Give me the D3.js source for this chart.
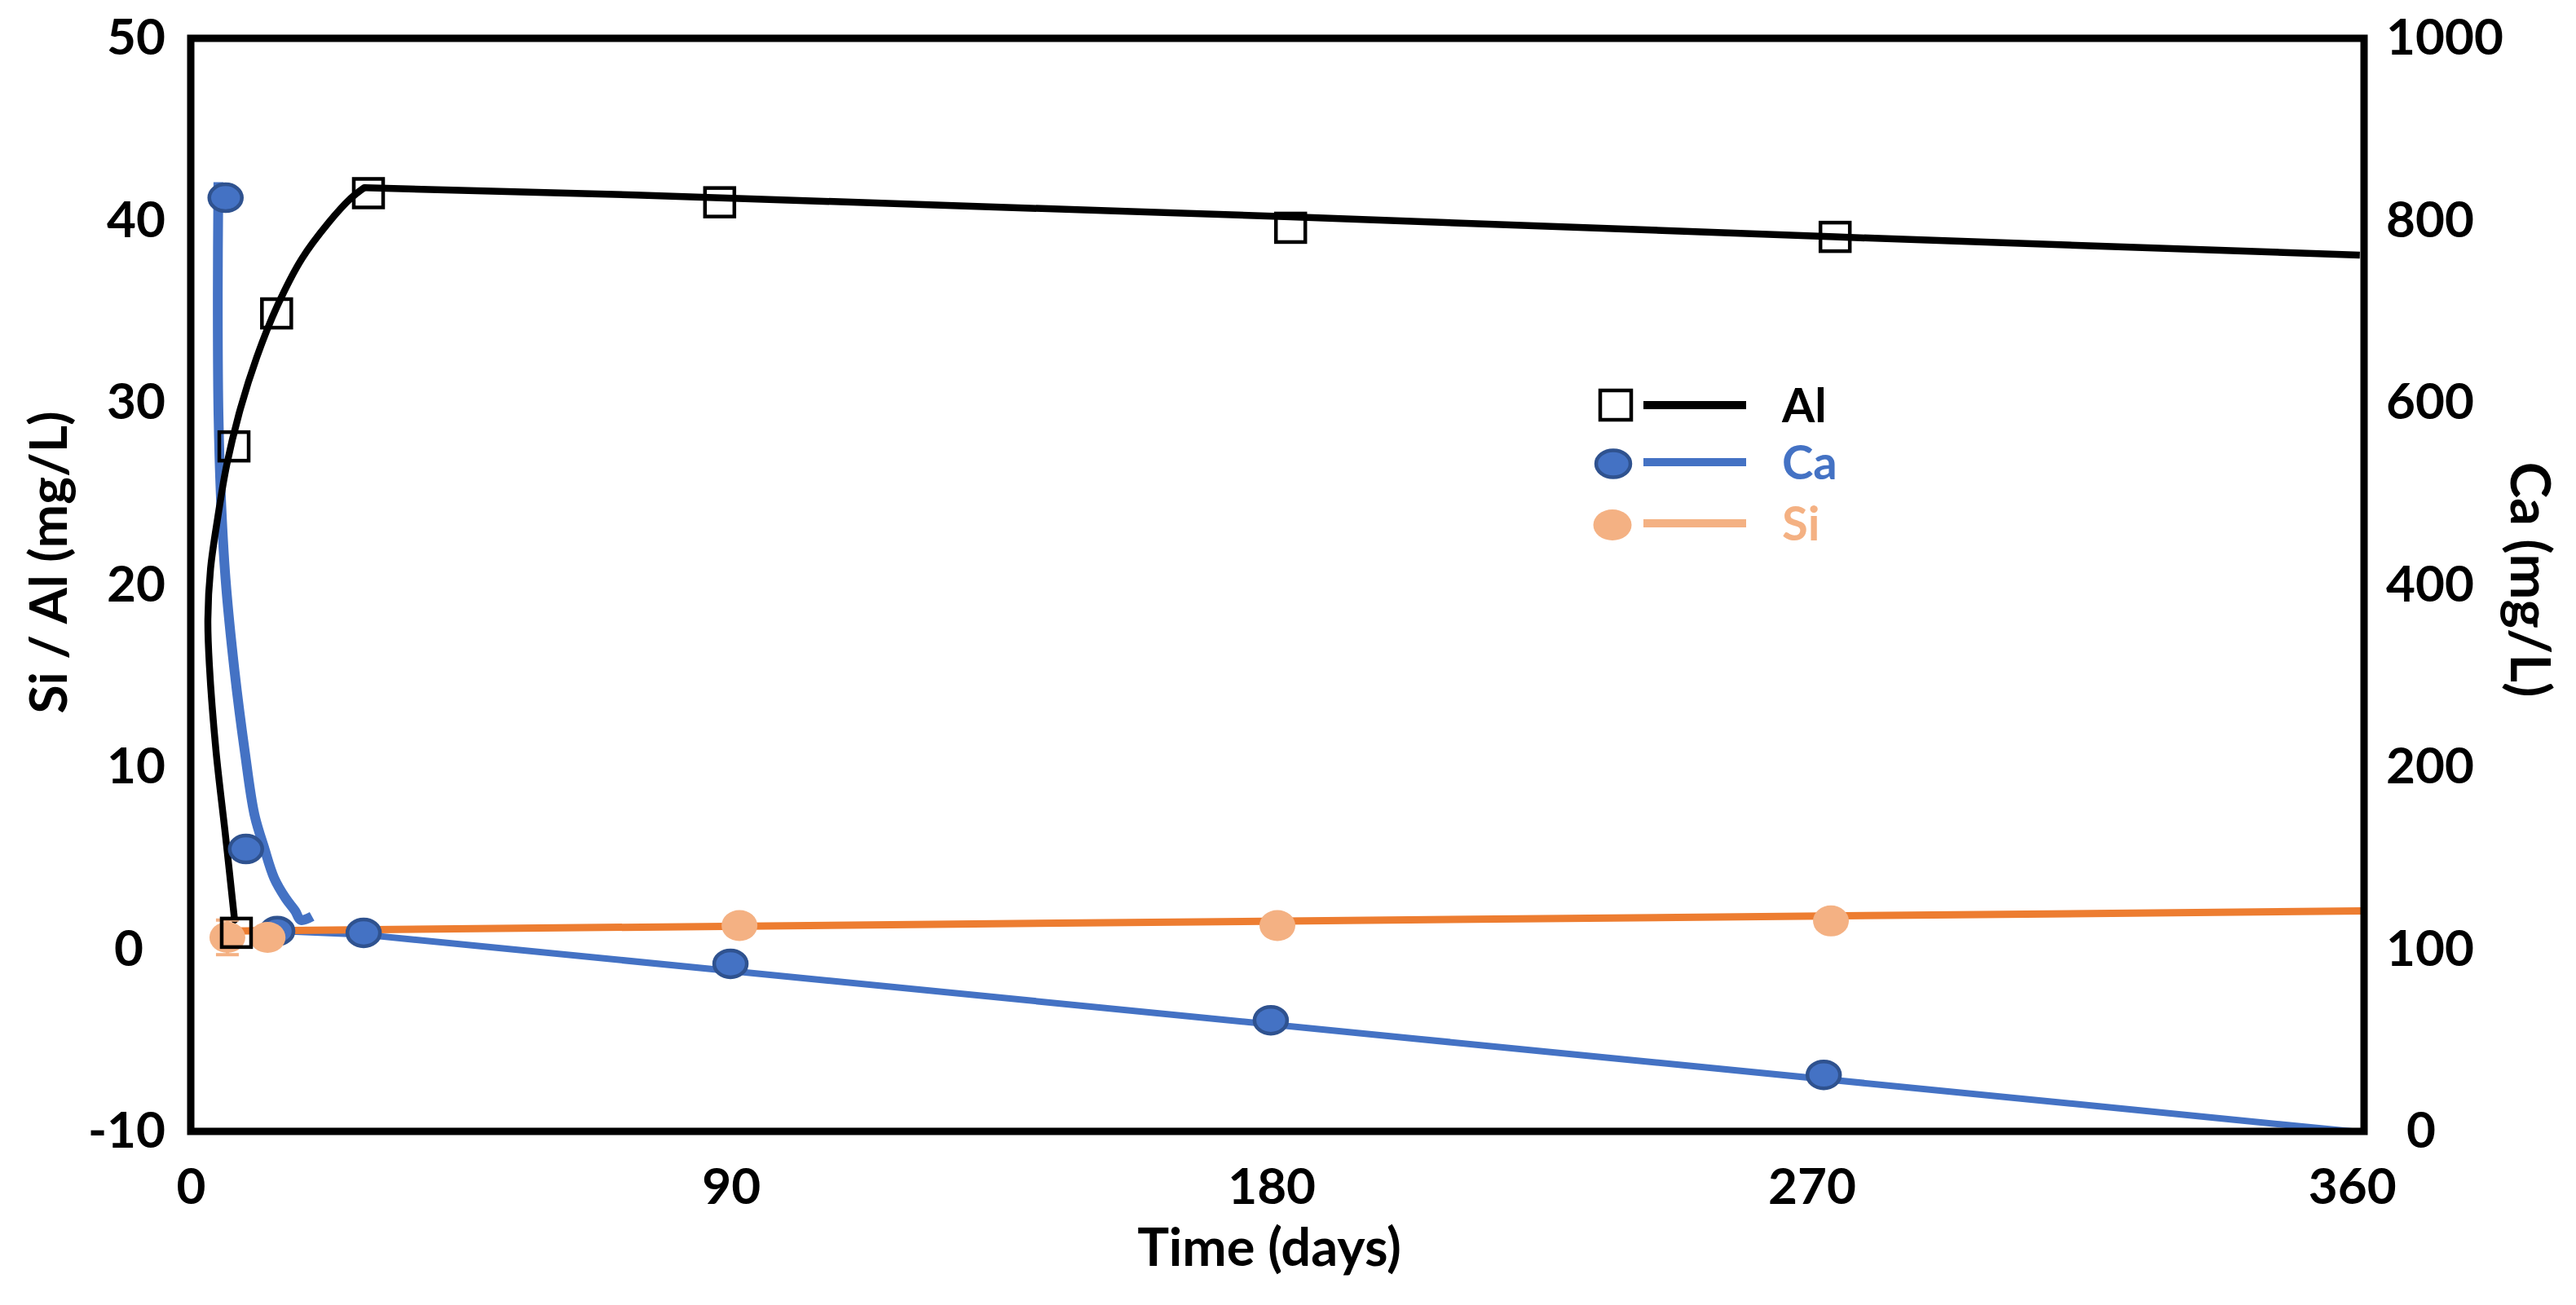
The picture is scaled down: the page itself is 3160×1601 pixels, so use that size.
<!DOCTYPE html>
<html>
<head>
<meta charset="utf-8">
<script src="https://cdn.jsdelivr.net/npm/d3@7/dist/d3.min.js"></script>
<style>
  html, body { margin: 0; padding: 0; background: #ffffff; }
  svg { display: block; }
  text { font-family: Lato, "Open Sans", sans-serif; font-weight: 700; }
</style>
</head>
<body>
<svg id="chart" width="3160" height="1601"></svg>
<script>
// ---------------- data ----------------
const xTicks = [0, 90, 180, 270, 360];
const leftTicks = [-10, 0, 10, 20, 30, 40, 50];
const rightTicks = [0, 100, 200, 400, 600, 800, 1000];

// Al (mg/L, left axis) markers
const alDays   = [7.6, 7.2, 14.3, 29.6, 88.1, 183.2, 273.9];
const alValues = [0.9, 27.6, 34.9, 41.5, 41.0, 39.6, 39.1];
// Al fitted curve (early rise)
const alCurveDays   = [7.3, 5.8, 4.2, 3.1, 2.85, 3.3, 4.5, 6.0, 8.3, 11.0, 14.4, 18.5, 23.0, 26.6, 28.9];
const alCurveValues = [1.6, 6.2, 10.9, 15.6, 18.1, 20.9, 23.7, 26.6, 29.7, 32.5, 35.3, 37.9, 39.9, 41.2, 41.8];
// Al trend line (after the peak)
const alLineDays   = [28.9, 74.1, 183.2, 273.9, 361.3];
const alLineValues = [41.8, 41.4, 40.2, 39.1, 38.1];

// Ca (mg/L, right axis) markers
const caDays   = [5.8, 9.2, 14.4, 28.8, 89.9, 179.9, 272.0];
const caValues = [825, 155, 110, 109, 92, 61, 31];
// Ca early fitted curve
const caCurveDays   = [4.6, 4.5, 4.6, 5.0, 5.8, 7.3, 9.0, 10.6, 12.2, 13.9, 15.8, 17.4, 18.3, 20.2];
const caCurveValues = [842, 720, 595, 500, 406, 305, 217, 174, 156, 139, 128, 121, 116, 118];
// Ca trend line
const caLineDays   = [15.1, 28.8, 360];
const caLineValues = [110, 108, 0];

// Si (mg/L, left axis) markers
const siDays   = [6.1, 12.8, 91.4, 181.0, 273.2];
const siValues = [0.65, 0.65, 1.3, 1.3, 1.55];
const siErr    = [0.95, 0, 0, 0, 0];
// Si trend line
const siLineDays   = [6.3, 362];
const siLineValues = [1.0, 2.1];

const legendItems = ["Al", "Ca", "Si"];

// ---------------- layout / style ----------------
const plot = { left: 234, right: 2900, top: 47, bottom: 1388 };
const colors = {
  al: "#000000",
  ca: "#4472C4", caStroke: "#2F528F",
  si: "#F4B183", siLine: "#ED7D31"
};

const svg = d3.select("#chart");
svg.append("rect").attr("width", 3160).attr("height", 1601).attr("fill", "#fff");

const x = d3.scaleLinear().domain([0, 362]).range([plot.left, plot.right]);
const yL = d3.scaleLinear().domain([-10, 50]).range([plot.bottom, plot.top]);
// right axis labels sit at the same heights as the left axis ticks
const yR = d3.scaleLinear().domain(rightTicks).range(leftTicks.map(v => yL(v)));

const zip = (a, b) => a.map((v, i) => [v, b[i]]);
const lineL = (curve) => d3.line().x(d => x(d[0])).y(d => yL(d[1])).curve(curve);
const lineR = (curve) => d3.line().x(d => x(d[0])).y(d => yR(d[1])).curve(curve);

// ---------------- lines ----------------
const g = svg.append("g");

g.append("path")
  .attr("d", lineR(d3.curveCatmullRom.alpha(0.5))(zip(caCurveDays, caCurveValues)))
  .attr("fill", "none").attr("stroke", colors.ca).attr("stroke-width", 12);

g.append("path")
  .attr("d", lineR(d3.curveLinear)(zip(caLineDays, caLineValues)))
  .attr("fill", "none").attr("stroke", colors.ca).attr("stroke-width", 8);

g.append("path")
  .attr("d", lineL(d3.curveLinear)(zip(siLineDays, siLineValues)))
  .attr("fill", "none").attr("stroke", colors.siLine).attr("stroke-width", 9);

g.append("path")
  .attr("d", lineL(d3.curveCatmullRom.alpha(0.5))(zip(alCurveDays, alCurveValues)))
  .attr("fill", "none").attr("stroke", colors.al).attr("stroke-width", 8.5)
  .attr("stroke-linecap", "round");

g.append("path")
  .attr("d", lineL(d3.curveLinear)(zip(alLineDays, alLineValues)))
  .attr("fill", "none").attr("stroke", colors.al).attr("stroke-width", 8.5)
  .attr("stroke-linejoin", "round");

// ---------------- markers ----------------
g.selectAll(".ca").data(zip(caDays, caValues)).enter().append("ellipse")
  .attr("cx", d => x(d[0])).attr("cy", d => yR(d[1]))
  .attr("rx", 20).attr("ry", 16.5)
  .attr("fill", colors.ca).attr("stroke", colors.caStroke).attr("stroke-width", 4.5);

// Si error bars
const siErrData = siDays.map((d, i) => ({ d, v: siValues[i], e: siErr[i] })).filter(o => o.e > 0);
siErrData.forEach(o => {
  g.append("line").attr("x1", x(o.d)).attr("x2", x(o.d))
    .attr("y1", yL(o.v - o.e)).attr("y2", yL(o.v + o.e))
    .attr("stroke", colors.si).attr("stroke-width", 4);
  [o.v - o.e, o.v + o.e].forEach(v => {
    g.append("line").attr("x1", x(o.d) - 14).attr("x2", x(o.d) + 14)
      .attr("y1", yL(v)).attr("y2", yL(v))
      .attr("stroke", colors.si).attr("stroke-width", 4);
  });
});

g.selectAll(".si").data(zip(siDays, siValues)).enter().append("ellipse")
  .attr("cx", d => x(d[0])).attr("cy", d => yL(d[1]))
  .attr("rx", 22).attr("ry", 19)
  .attr("fill", colors.si);

g.selectAll(".al").data(zip(alDays, alValues)).enter().append("rect")
  .attr("x", d => x(d[0]) - 18).attr("y", d => yL(d[1]) - 17.5)
  .attr("width", 36).attr("height", 35)
  .attr("fill", "none").attr("stroke", colors.al).attr("stroke-width", 4.5);

// ---------------- frame ----------------
svg.append("rect")
  .attr("x", plot.left).attr("y", plot.top)
  .attr("width", plot.right - plot.left).attr("height", plot.bottom - plot.top)
  .attr("fill", "none").attr("stroke", "#000").attr("stroke-width", 9);

// ---------------- axes ----------------
const tickFont = 62;
const fmt = d => String(d);
const styleTicks = sel => sel.selectAll("text")
  .attr("font-size", tickFont).attr("fill", "#000")
  .attr("font-family", "Lato, sans-serif").attr("font-weight", 700);

const leftDx = { "0": -27 };
const gL = svg.append("g").attr("transform", "translate(203,0)")
  .call(d3.axisLeft(yL).tickValues(leftTicks).tickFormat(fmt).tickSize(0).tickPadding(0));
gL.select(".domain").remove();
styleTicks(gL).attr("dx", d => leftDx[String(d)] || 0);

const rightDx = { "0": 25 };
const gR = svg.append("g").attr("transform", "translate(2927,0)")
  .call(d3.axisRight(yR).tickValues(rightTicks).tickFormat(fmt).tickSize(0).tickPadding(0));
gR.select(".domain").remove();
styleTicks(gR).attr("dx", d => rightDx[String(d)] || 0);

const gB = svg.append("g").attr("transform", "translate(0,1432)")
  .call(d3.axisBottom(x).tickValues(xTicks).tickFormat(fmt).tickSize(0).tickPadding(0));
gB.select(".domain").remove();
styleTicks(gB).attr("dy", "0.72em");

// axis titles
svg.append("text").text("Time (days)")
  .attr("x", 1557).attr("y", 1553).attr("text-anchor", "middle")
  .attr("font-size", 65);

svg.append("text").text("Si / Al (mg/L)")
  .attr("transform", "translate(82,690) rotate(-90)")
  .attr("text-anchor", "middle").attr("font-size", 64);

svg.append("text").text("Ca (mg/L)")
  .attr("transform", "translate(3080,711) rotate(90)")
  .attr("text-anchor", "middle").attr("font-size", 67);

// ---------------- legend ----------------
const lg = svg.append("g");
const legendRows = [
  { name: legendItems[0], y: 497, text: "#000", line: colors.al },
  { name: legendItems[1], y: 567, text: colors.ca, line: colors.ca },
  { name: legendItems[2], y: 642, text: colors.si, line: colors.si }
];
legendRows.forEach(r => {
  if (r.name === "Al") {
    lg.append("rect").attr("x", 1982 - 19).attr("y", r.y - 18).attr("width", 38).attr("height", 36)
      .attr("fill", "none").attr("stroke", "#000").attr("stroke-width", 4.5);
  } else if (r.name === "Ca") {
    lg.append("ellipse").attr("cx", 1979).attr("cy", r.y + 2).attr("rx", 21).attr("ry", 16.5)
      .attr("fill", colors.ca).attr("stroke", colors.caStroke).attr("stroke-width", 4.5);
  } else {
    lg.append("ellipse").attr("cx", 1978).attr("cy", r.y + 2).attr("rx", 23.5).attr("ry", 19)
      .attr("fill", colors.si);
  }
  lg.append("line").attr("x1", 2016).attr("x2", 2142).attr("y1", r.y).attr("y2", r.y)
    .attr("stroke", r.line).attr("stroke-width", 10);
  lg.append("text").text(r.name).attr("x", 2186).attr("y", r.y + 21)
    .attr("fill", r.text).attr("font-size", 58);
});
</script>
</body>
</html>
